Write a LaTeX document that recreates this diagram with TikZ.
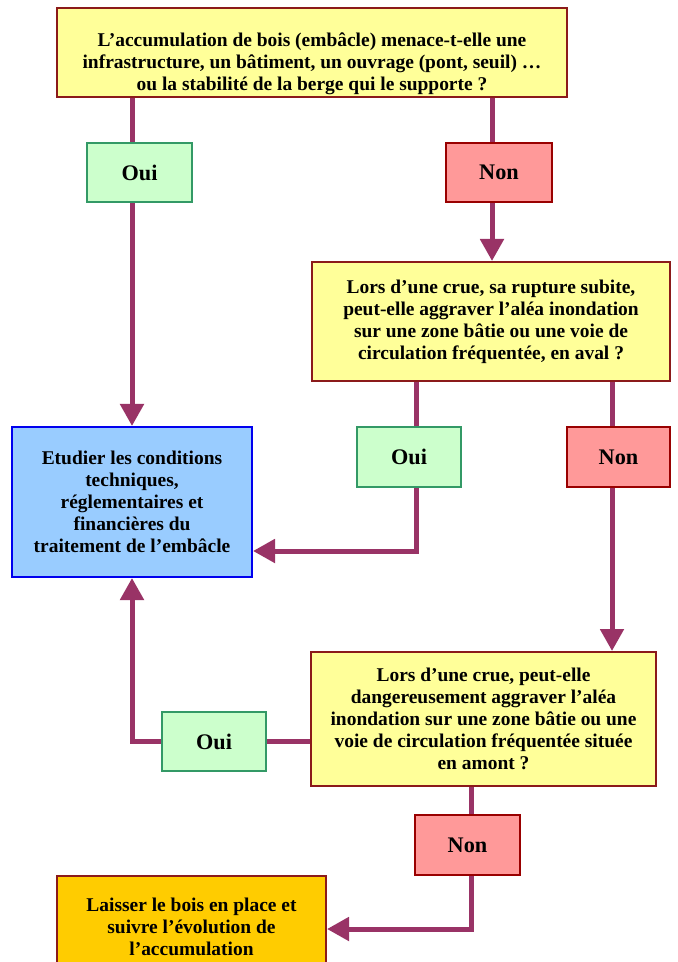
\documentclass[tikz,border=0pt]{standalone}
\usepackage{fontspec}
\setmainfont{Liberation Serif}
\usetikzlibrary{arrows.meta}
\definecolor{jaune}{HTML}{FFFF99}
\definecolor{bordq}{HTML}{8B1A1A}
\definecolor{vertclair}{HTML}{CCFFCC}
\definecolor{vertbord}{HTML}{339966}
\definecolor{rouge}{HTML}{FF9999}
\definecolor{rougebord}{HTML}{990000}
\definecolor{bleu}{HTML}{99CCFF}
\definecolor{bleubord}{HTML}{0000EE}
\definecolor{orange}{HTML}{FFCC00}
\definecolor{violet}{HTML}{993366}
\tikzset{
  texte/.style={inner sep=0pt, align=center, font=\bfseries\fontsize{16.6}{18.8}\selectfont},
  boite/.style 2 args={texte, minimum width=#1, minimum height=#2, line width=0.06cm},
  question/.style={draw=bordq, fill=jaune},
  oui/.style={draw=vertbord, fill=vertclair, font=\bfseries\fontsize{19}{22}\selectfont},
  non/.style={draw=rougebord, fill=rouge, font=\bfseries\fontsize{19}{22}\selectfont},
  etude/.style={draw=bleubord, fill=bleu},
  laisser/.style={draw=bordq, fill=orange},
  lien/.style={draw=violet, line width=0.15cm},
  fleche/.style={lien, -{Triangle[width=0.69cm, length=0.66cm]}}
}
\begin{document}
\begin{tikzpicture}[x=0.03cm, y=-0.03cm]
  %%%%% START %%%%%
  \useasboundingbox (0, 0) rectangle (677, 962);
  \clip (0, 0) rectangle (677, 962);

  % columns and rows of the connectors
  \coordinate (colA) at (132, 0);
  \coordinate (colB) at (492, 0);
  \coordinate (colC) at (416, 0);
  \coordinate (colD) at (612, 0);
  \coordinate (colE) at (471, 0);
  \coordinate (rowA) at (0, 551);
  \coordinate (rowB) at (0, 929);

  % first question: text sits low in its box
  \node[boite={15.3cm}{2.67cm}, question] (q1) at (312, 52.5) {};
  \node[texte] (q1txt) at (312, 63.5)
    {L’accumulation de bois (embâcle) menace-t-elle une\\
     infrastructure, un bâtiment, un ouvrage (pont, seuil) …\\
     ou la stabilité de la berge qui le supporte ?};
  \node[boite={3.15cm}{1.77cm}, oui] (oui1) at (139.5, 172.5) {Oui};
  \node[boite={3.18cm}{1.77cm}, non] (non1) at (499, 172.5) {Non};

  \node[boite={10.74cm}{3.57cm}, question] (q2) at (491, 321.5)
    {Lors d’une crue, sa rupture subite,\\
     peut-elle aggraver l’aléa inondation\\
     sur une zone bâtie ou une voie de\\
     circulation fréquentée, en aval ?};
  \node[boite={3.12cm}{1.8cm}, oui] (oui2) at (409, 457) {Oui};
  \node[boite={3.09cm}{1.8cm}, non] (non2) at (618.5, 457) {Non};

  \node[boite={7.2cm}{4.5cm}, etude] (etude) at (132, 502)
    {Etudier les conditions\\
     techniques,\\
     réglementaires et\\
     financières du\\
     traitement de l’embâcle};

  \node[boite={10.35cm}{4.02cm}, question] (q3) at (483.5, 719)
    {Lors d’une crue, peut-elle\\
     dangereusement aggraver l’aléa\\
     inondation sur une zone bâtie ou une\\
     voie de circulation fréquentée située\\
     en amont ?};
  \node[boite={3.12cm}{1.77cm}, oui] (oui3) at (214, 741.5) {Oui};
  \node[boite={3.15cm}{1.8cm}, non] (non3) at (467.5, 845) {Non};

  \node[boite={8.07cm}{3.06cm}, laisser] (laisser) at (191.5, 927)
    {Laisser le bois en place et\\
     suivre l’évolution de\\
     l’accumulation};

  % connectors
  \draw[lien] (q1.south -| colA) -- (oui1.north -| colA);
  \draw[fleche] (oui1.south -| colA) -- (etude.north);
  \draw[lien] (q1.south -| colB) -- (non1.north -| colB);
  \draw[fleche] (non1.south -| colB) -- (q2.north -| colB);

  \draw[lien] (q2.south -| colC) -- (oui2.north -| colC);
  \draw[fleche] (oui2.south -| colC) |- (etude.east |- rowA);
  \draw[lien] (q2.south -| colD) -- (non2.north -| colD);
  \draw[fleche] (non2.south -| colD) -- (q3.north -| colD);

  \draw[lien] (q3.west |- oui3) -- (oui3.east);
  \draw[fleche] (oui3.west) -| (etude.south);
  \draw[lien] (q3.south -| colE) -- (non3.north -| colE);
  \draw[fleche] (non3.south -| colE) |- (laisser.east |- rowB);
  %%%%% END %%%%%
\end{tikzpicture}
\end{document}
